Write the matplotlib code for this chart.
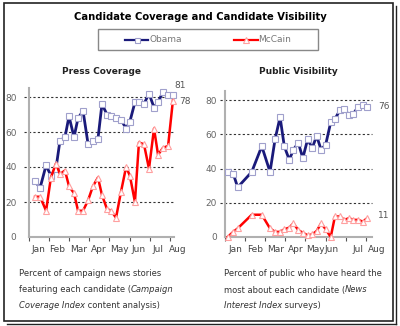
import matplotlib
matplotlib.use("Agg")
import matplotlib.pyplot as plt
from matplotlib.patches import Rectangle
from matplotlib.lines import Line2D

W, H = 400, 326

# ---------------- data ----------------
months = ["Jan", "Feb", "Mar", "Apr", "May", "Jun", "Jul", "Aug"]

# weekly press coverage (x in months since Jan 1)
press_x = [0.30, 0.55, 0.85, 1.09, 1.34, 1.54, 1.79, 1.99, 2.24, 2.44,
           2.69, 2.94, 3.18, 3.43, 3.63, 3.88, 4.08, 4.33, 4.58, 4.83,
           5.02, 5.27, 5.47, 5.72, 5.97, 6.22, 6.42, 6.67, 6.92, 7.16]
press_obama = [32, 28, 41, 35, 39, 55, 57, 69, 57, 68,
               72, 53, 55, 56, 76, 70, 69, 68, 67, 62,
               66, 77, 77, 76, 82, 74, 77, 83, 81, 81]
press_mccain = [23, 23, 15, 34, 42, 36, 38, 29, 25, 15,
                15, 21, 29, 34, 24, 16, 15, 11, 26, 40,
                35, 20, 54, 53, 39, 62, 47, 51, 52, 78]

# public visibility surveys
vis_x = [0.13, 0.41, 0.63, 1.33, 1.83, 2.24, 2.49, 2.74, 2.95, 3.20,
         3.40, 3.65, 3.87, 4.11, 4.34, 4.56, 4.78, 5.01, 5.26, 5.47,
         5.72, 5.94, 6.17, 6.38, 6.63, 6.85, 7.08]
vis_obama = [38, 37, 29, 38, 53, 38, 57, 70, 53, 45,
             51, 55, 46, 57, 52, 59, 51, 54, 67, 69,
             74, 75, 71, 72, 76, 77, 76]
vis_mccain = [0, 3, 5, 13, 13, 5, 3, 3, 4.5, 5.5,
              8, 4, 2.5, 1, 1.5, 3.5, 8, 4.5, 0, 12,
              12, 10, 11, 10, 10, 9, 11]

y_ticks = [0, 20, 40, 60, 80]
grid_vals = [20, 40, 60, 80]

OBAMA = "#1a1a7a"
MCCAIN = "#ff0000"


def fx(px):
    return px / W


def fy(py):
    return 1 - py / H


fig = plt.figure(figsize=(4, 3.26), dpi=100)
fig.patch.set_facecolor("white")

obama_style = dict(color=OBAMA, lw=2.0, marker="s", markersize=4.0,
                   markerfacecolor="white", markeredgecolor="#a0a0cc",
                   markeredgewidth=0.8)
mccain_style = dict(color=MCCAIN, lw=1.8, marker="^", markersize=4.4,
                    markerfacecolor="white", markeredgecolor="#ffa0a0",
                    markeredgewidth=0.8)


def setup_axis(ax, xmax, spine_end, label_off, ypad):
    ax.set_xlim(0, xmax)
    ax.set_ylim(0, 85)
    for s in ["top", "right"]:
        ax.spines[s].set_visible(False)
    for s in ["left", "bottom"]:
        ax.spines[s].set_color("#b0b0b0")
        ax.spines[s].set_linewidth(1.5)
    ax.spines["bottom"].set_bounds(0, spine_end)
    ax.set_yticks(y_ticks)
    ax.tick_params(axis="y", length=0, pad=ypad, labelsize=6.5,
                   labelcolor="#666666")
    ax.set_xticks(range(8))
    ax.set_xticklabels([])
    ax.tick_params(axis="x", which="major", length=3, width=0.8,
                   color="#555555", direction="out")
    ax.set_xticks([m + off for m, off in zip(range(8), label_off)],
                  minor=True)
    ax.set_xticklabels(months, minor=True)
    ax.tick_params(axis="x", which="minor", length=0, pad=6,
                   labelsize=6.5, labelcolor="#444444")
    ax.hlines(grid_vals, -0.25, spine_end, colors="#333333",
              linestyles=(0, (2, 2)), lw=0.8, clip_on=False, zorder=0)


# ---------------- left panel ----------------
axL = fig.add_axes([fx(29), fy(237), 7.5 * 20.1 / W, 148.75 / H])
setup_axis(axL, 7.5, 7.2, [0.45, 0.4, 0.45, 0.48, 0.5, 0.45, 0.42, 0.4],
           ypad=9)
axL.plot(press_x, press_obama, clip_on=False, zorder=3, **obama_style)
axL.plot(press_x, press_mccain, clip_on=False, zorder=3, **mccain_style)
axL.text(press_x[-1] + 0.05, press_obama[-1] + 3, str(press_obama[-1]),
         fontsize=6.5, color="#555555", ha="left", va="bottom")
axL.text(press_x[-1] + 0.3, press_mccain[-1] - 0.5, str(press_mccain[-1]),
         fontsize=6.5, color="#555555", ha="left", va="center")

# ---------------- right panel ----------------
axR = fig.add_axes([fx(225), fy(237), 7.75 * 20.1 / W, 137 * 85 / 80 / H])
setup_axis(axR, 7.75, 7.3, [0.5, 0.5, 0.5, 0.5, 0.5, 0.3, 0.6, 0.55],
           ypad=6)
axR.plot(vis_x, vis_obama, clip_on=False, zorder=3, **obama_style)
axR.plot(vis_x, vis_mccain, clip_on=False, zorder=3, **mccain_style)
axR.text(vis_x[-1] + 0.55, vis_obama[-1], str(vis_obama[-1]),
         fontsize=6.5, color="#555555", ha="left", va="center")
axR.text(vis_x[-1] + 0.55, vis_mccain[-1] + 1.5, str(vis_mccain[-1]),
         fontsize=6.5, color="#555555", ha="left", va="center")

# ---------------- titles ----------------
fig.text(0.5, fy(17), "Candidate Coverage and Candidate Visibility",
         ha="center", va="center", fontsize=7.2, fontweight="bold")
fig.text(fx(102), fy(71), "Press Coverage", ha="center", va="center",
         fontsize=6.5, fontweight="bold", color="#222222")
fig.text(fx(298), fy(71), "Public Visibility", ha="center", va="center",
         fontsize=6.5, fontweight="bold", color="#222222")

# ---------------- legend ----------------
fig.patches.append(Rectangle((fx(98), fy(50)), fx(220), 21 / H,
                             transform=fig.transFigure, fill=False,
                             edgecolor="#888888", lw=1.0))
ly = fy(39.5)
fig.lines.append(Line2D([fx(125), fx(148)], [ly, ly],
                        transform=fig.transFigure, color=OBAMA, lw=1.6))
fig.lines.append(Line2D([fx(136.5)], [ly], transform=fig.transFigure,
                        marker="s", markersize=3.6, markerfacecolor="white",
                        markeredgecolor="#a0a0cc", markeredgewidth=0.8))
fig.text(fx(149), ly, "Obama", fontsize=6.5, color="#777777", va="center")
fig.lines.append(Line2D([fx(234), fx(258)], [ly, ly],
                        transform=fig.transFigure, color=MCCAIN, lw=1.6))
fig.lines.append(Line2D([fx(245.5)], [ly], transform=fig.transFigure,
                        marker="^", markersize=4, markerfacecolor="white",
                        markeredgecolor="#ffa0a0", markeredgewidth=0.8))
fig.text(fx(258), ly, "McCain", fontsize=6.5, color="#777777", va="center")

# ---------------- captions ----------------
renderer = fig.canvas.get_renderer()


def rich_line(px, py, parts):
    x = fx(px)
    for txt, style in parts:
        t = fig.text(x, fy(py), txt, fontsize=6, style=style,
                     color="#333333", va="center", ha="left")
        bb = t.get_window_extent(renderer)
        x += bb.width / W


rich_line(19, 274, [("Percent of campaign news stories", "normal")])
rich_line(19, 290, [("featuring each candidate (", "normal"),
                    ("Campaign", "italic")])
rich_line(19, 306, [("Coverage Index", "italic"),
                    (" content analysis)", "normal")])

rich_line(224, 274, [("Percent of public who have heard the", "normal")])
rich_line(224, 290, [("most about each candidate (", "normal"),
                     ("News", "italic")])
rich_line(224, 306, [("Interest Index", "italic"),
                     (" surveys)", "normal")])

# ---------------- outer frame ----------------
fig.patches.append(Rectangle((fx(4), fy(321)), fx(389), 318 / H,
                             transform=fig.transFigure, fill=False,
                             edgecolor="#222222", lw=1.2))
fig.lines.append(Line2D([fx(396), fx(396)], [fy(6), fy(324)],
                        transform=fig.transFigure, color="#222222", lw=1.0))
fig.lines.append(Line2D([fx(7), fx(396)], [fy(324), fy(324)],
                        transform=fig.transFigure, color="#222222", lw=1.0))

fig.savefig("out.png", dpi=100)
